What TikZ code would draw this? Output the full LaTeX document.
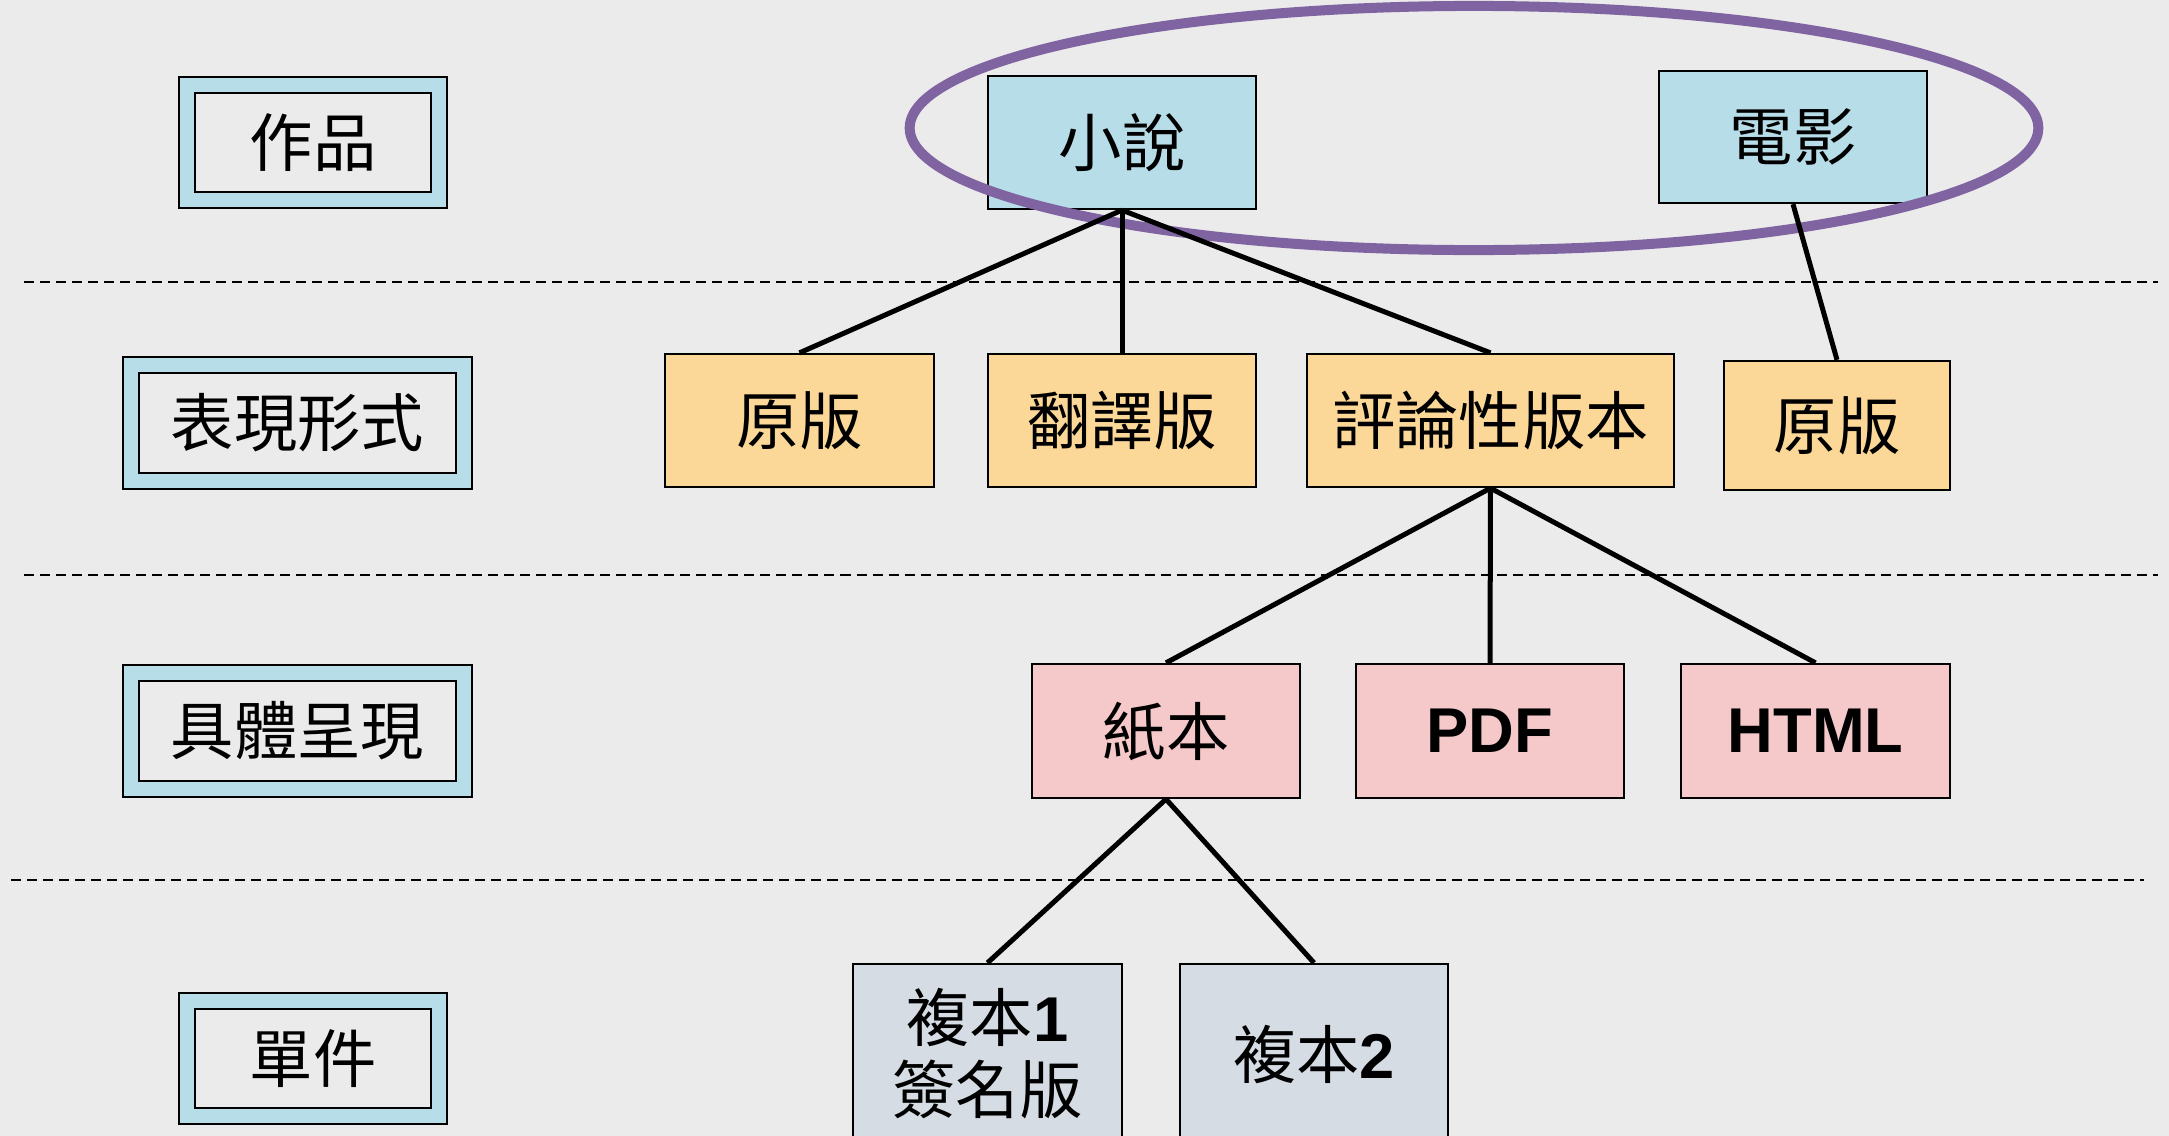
\documentclass[tikz,border=0pt]{standalone}
\usepackage{fontspec}
\setmainfont{Liberation Sans}
\newfontfamily\cjk{Noto Sans CJK TC}
\usetikzlibrary{shapes.geometric}
\definecolor{bgc}{HTML}{EBEBEB}
\definecolor{labc}{HTML}{B7DDE8}
\definecolor{workc}{HTML}{B7DDE8}
\definecolor{exprc}{HTML}{FCD898}
\definecolor{manic}{HTML}{F5C8C9}
\definecolor{itemc}{HTML}{D5DCE4}
\definecolor{purp}{HTML}{8064A2}
\begin{document}
\begin{tikzpicture}[x=0.01cm,y=-0.01cm,
  txt/.style={font=\fontsize{18}{20.5}\selectfont\cjk},
  box/.style={txt, draw=black, line width=0.022cm, inner sep=0pt, align=center},
  wbox/.style={box, fill=workc},
  ebox/.style={box, fill=exprc},
  mbox/.style={box, fill=manic},
  ibox/.style={box, fill=itemc},
  lab/.style={txt, draw=black, line width=0.02cm, double=labc, double distance=0.14cm, fill=bgc, inner sep=0pt},
  link/.style={draw=black, line width=0.05cm},
  sep/.style={draw=black, line width=0.015cm, dash pattern=on 0.1cm off 0.06cm}
]
\fill[bgc] (0,0) rectangle (2169,1136);
\useasboundingbox (0,0) rectangle (2169,1136);
\clip (0,0) rectangle (2169,1136);

% separators
\draw[sep] (24,282) -- (2158,282);
\draw[sep] (24,575) -- (2158,575);
\draw[sep] (11,880) -- (2144,880);

% level labels
\node[lab, minimum width=2.52cm, minimum height=1.15cm] (l1) at (313,142.5) {作品};
\node[lab, minimum width=3.33cm, minimum height=1.16cm] (l2) at (297.5,423) {表現形式};
\node[lab, minimum width=3.33cm, minimum height=1.16cm] (l3) at (297.5,731) {具體呈現};
\node[lab, minimum width=2.52cm, minimum height=1.15cm] (l4) at (313,1058.5) {單件};

% works
\node[wbox, minimum width=2.68cm, minimum height=1.33cm] (novel) at (1122,142.5) {小說};
\node[wbox, minimum width=2.68cm, minimum height=1.32cm] (film) at (1793,137) {電影};

% expressions
\node[ebox, minimum width=2.69cm, minimum height=1.33cm] (orig) at (799.5,420.5) {原版};
\node[ebox, minimum width=2.68cm, minimum height=1.33cm] (trans) at (1122,420.5) {翻譯版};
\node[ebox, minimum width=3.67cm, minimum height=1.33cm] (crit) at (1490.5,420.5) {評論性版本};
\node[ebox, minimum width=2.26cm, minimum height=1.29cm] (orig2) at (1837,425.5) {原版};

% manifestations
\node[mbox, minimum width=2.68cm, minimum height=1.34cm] (paper) at (1166,731) {紙本};
\node[mbox, minimum width=2.68cm, minimum height=1.34cm] (pdf) at (1490,731) {\rmfamily\bfseries PDF};
\node[mbox, minimum width=2.69cm, minimum height=1.34cm] (html) at (1815.5,731) {\rmfamily\bfseries HTML};

% items
\node[ibox, minimum width=2.69cm, minimum height=1.80cm] (copy1) at (987.5,1054) {複本{\rmfamily\bfseries 1}\\簽名版};
\node[ibox, minimum width=2.68cm, minimum height=1.80cm] (copy2) at (1314,1054) {複本{\rmfamily\bfseries 2}};

% highlight ellipse
\node[ellipse, draw=purp, line width=0.1cm, minimum width=11.28cm, minimum height=2.44cm, inner sep=0pt] (sel) at (1474,128) {};

% connectors
\draw[link] (novel.south) -- (orig.north);
\draw[link] (novel.south) -- (trans.north);
\draw[link] (novel.south) -- (crit.north);
\draw[link] (film.south) -- (orig2.north);
\draw[link] (crit.south) -- (paper.north);
\draw[link] (crit.south) -- (pdf.north);
\draw[link] (crit.south) -- (html.north);
\draw[link] (paper.south) -- (copy1.north);
\draw[link] (paper.south) -- (copy2.north);
\end{tikzpicture}
\end{document}
